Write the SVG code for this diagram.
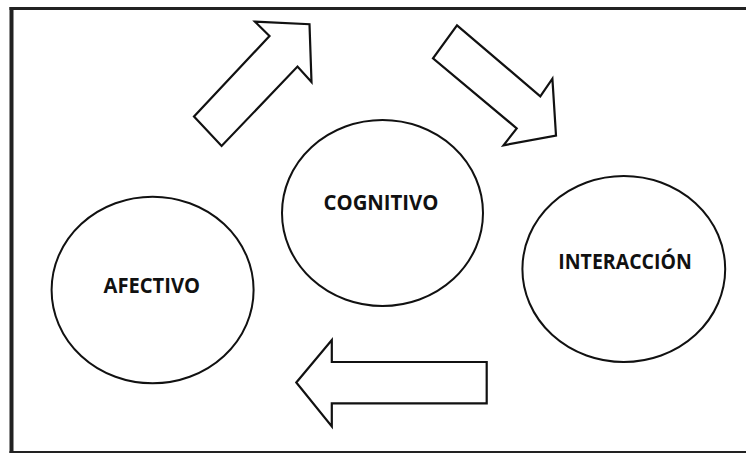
<svg xmlns="http://www.w3.org/2000/svg" width="746" height="453" viewBox="0 0 746 453">
<style>
.node ellipse{fill:#fff;stroke:#111;stroke-width:2}
.lbl{font-family:"Open Sans","DejaVu Sans",sans-serif;font-weight:bold;font-size:21.5px;fill:#111}
.arrow{fill:#fff;stroke:#111;stroke-width:2.2;stroke-linejoin:miter}
</style>
<rect x="0" y="0" width="746" height="453" fill="#fff"/>
<g id="frame" stroke="#222" fill="none">
<line x1="11.5" y1="7" x2="11.5" y2="453" stroke-width="4"/>
<line x1="9.5" y1="8.5" x2="746" y2="8.5" stroke-width="3"/>
<line x1="9.5" y1="452" x2="746" y2="452" stroke-width="2"/>
</g>
<g id="connectors">
<polygon class="arrow" points="255,21.7 309.5,24.2 311.5,82 297.5,66.5 221.6,146 194,116.5 269.5,36"/>
<polygon class="arrow" points="457,25.3 540.3,96.3 552.4,78.7 556,135.5 503.5,145.3 516.7,128.3 433,58.3"/>
<polygon class="arrow" points="296.3,382.5 331.8,340 331.8,362 486.7,362 486.7,403.3 331.8,403.3 331.8,426.5"/>
</g>
<g id="cognitivo" class="node">
<ellipse cx="382.5" cy="213" rx="100.5" ry="93"/>
<text class="lbl" x="323.5" y="209.5" textLength="115" lengthAdjust="spacingAndGlyphs">COGNITIVO</text>
</g>
<g id="afectivo" class="node">
<ellipse cx="152.6" cy="290" rx="101" ry="93.3"/>
<text class="lbl" x="103.5" y="292.5" textLength="96.5" lengthAdjust="spacingAndGlyphs">AFECTIVO</text>
</g>
<g id="interaccion" class="node">
<ellipse cx="623.8" cy="269" rx="101.4" ry="93"/>
<text class="lbl" x="558.3" y="269" textLength="133.5" lengthAdjust="spacingAndGlyphs">INTERACCIÓN</text>
</g>
</svg>
